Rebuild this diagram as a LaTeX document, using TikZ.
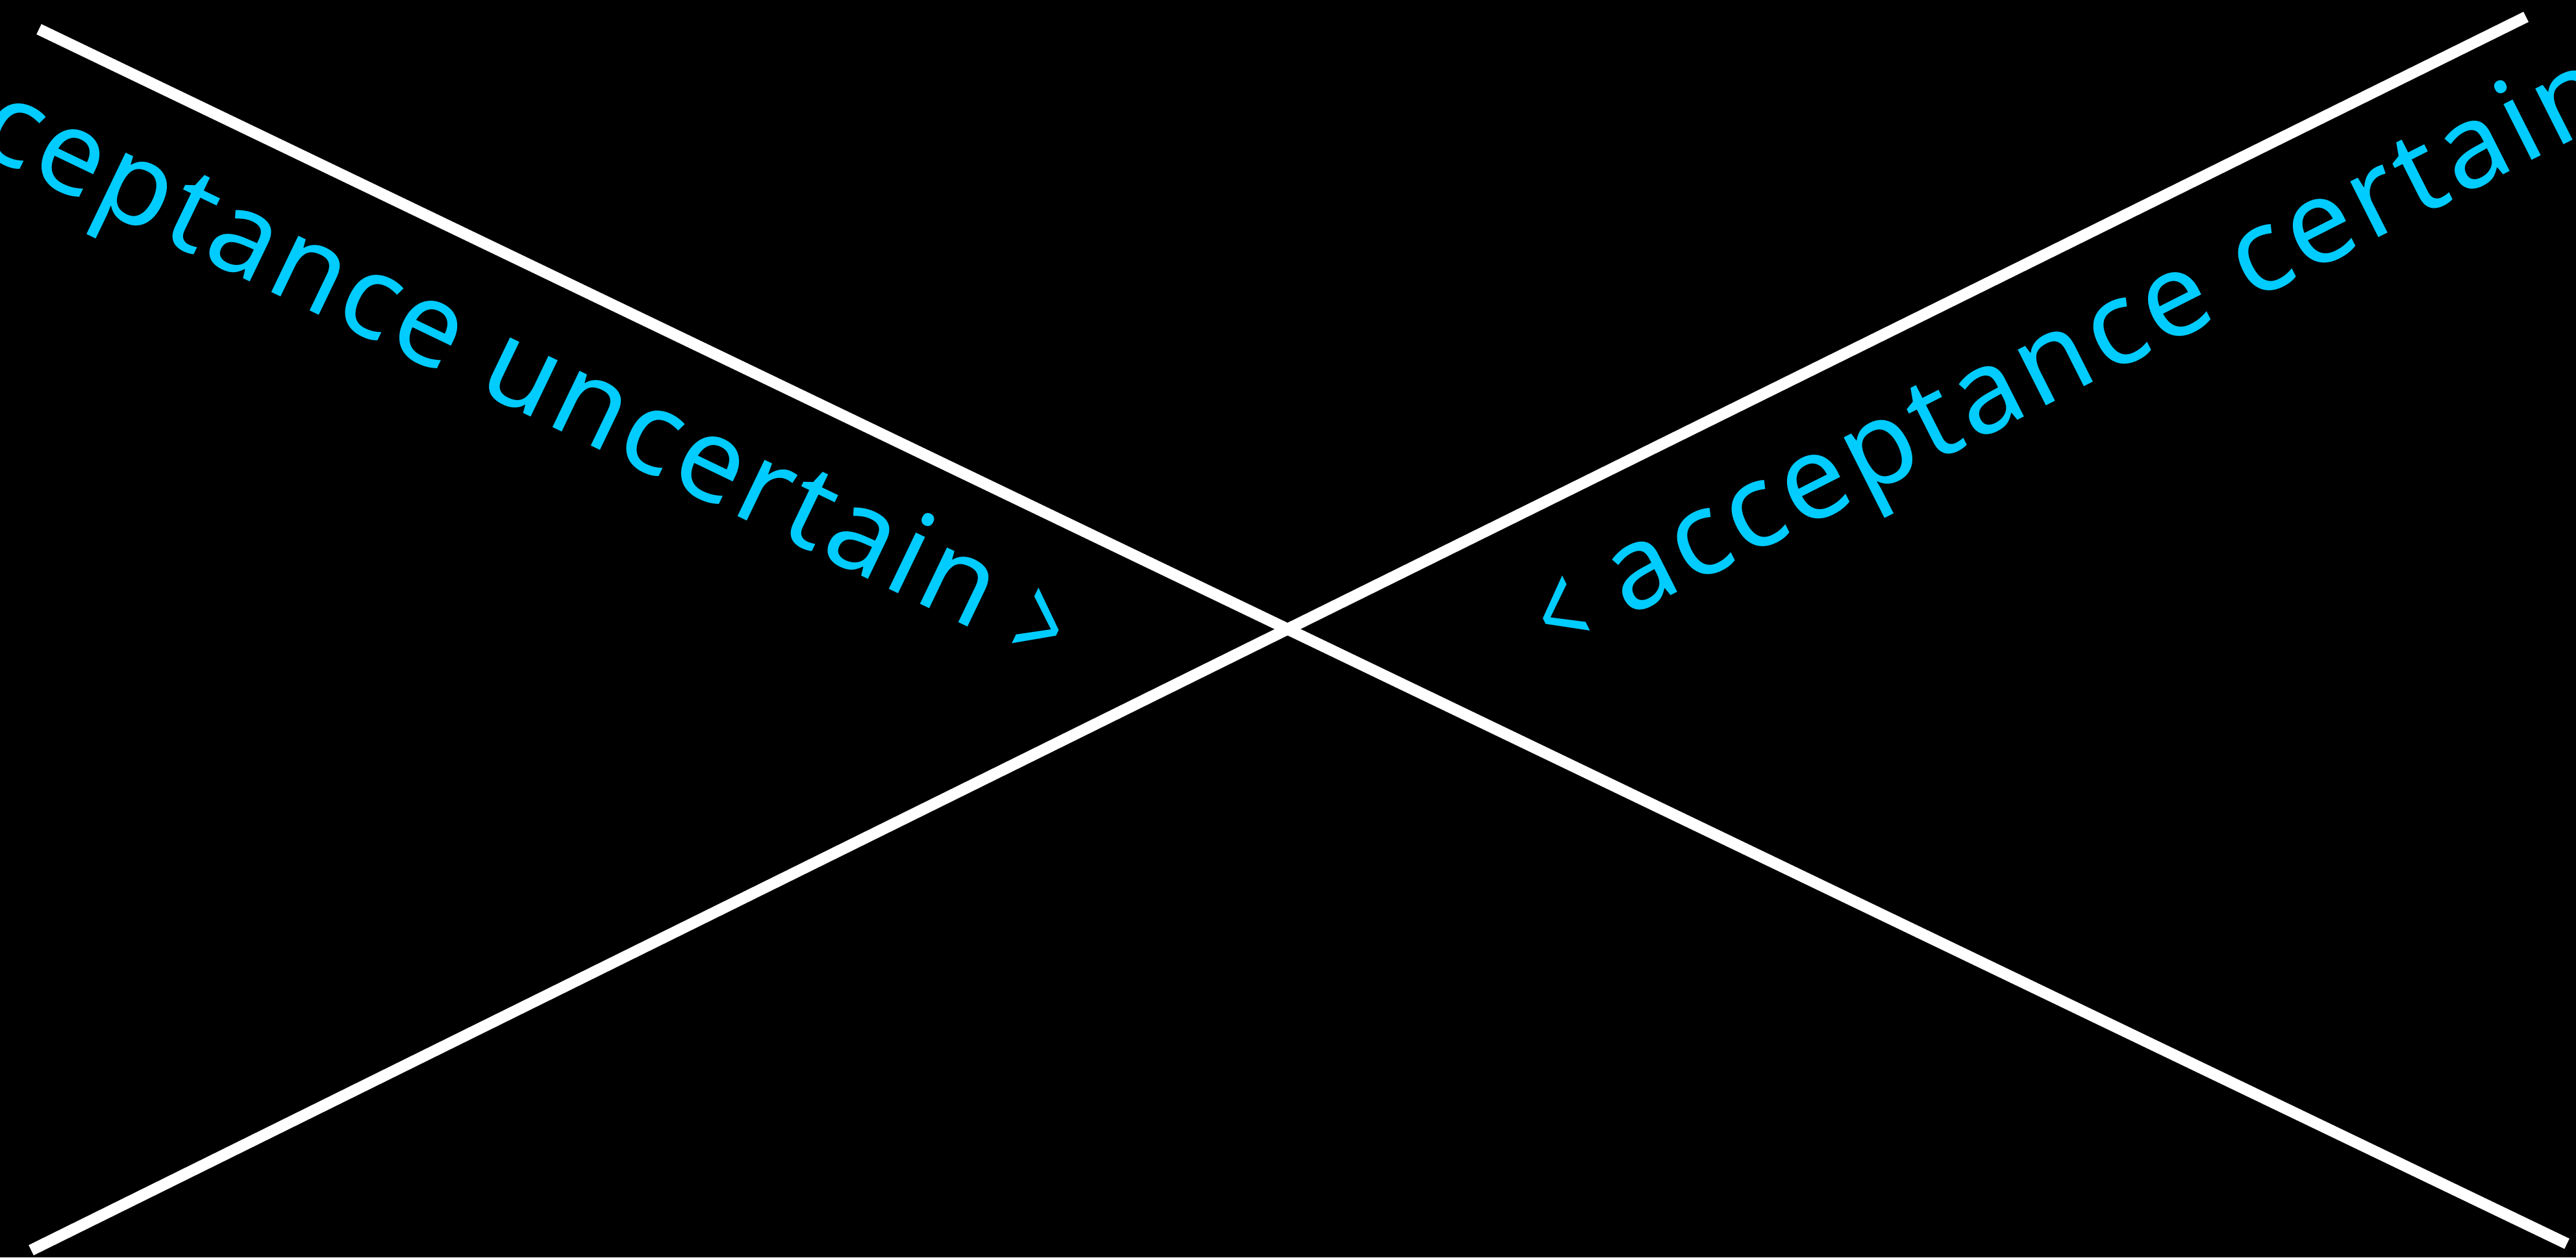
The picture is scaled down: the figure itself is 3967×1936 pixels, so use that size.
\documentclass[tikz,border=0pt]{standalone}
\usepackage{fontspec}
\setmainfont{Noto Sans}[LetterSpace=3.5]
\newfontfamily\widerfont{Noto Sans}[LetterSpace=4.6]
\definecolor{labelcyan}{HTML}{00CCFF}
\newcommand{\chev}[1]{\raisebox{-0.088em}{\scalebox{0.667}[1.077]{#1}}}
\begin{document}
\begin{tikzpicture}[x=0.01cm,y=-0.01cm,
  crossline/.style={draw=white,line width=0.175cm,line cap=butt},
  lbl/.style={text=labelcyan,font=\fontsize{51}{60}\selectfont,inner sep=0pt}]
\fill[black] (0,0) rectangle (3967,1936);
\useasboundingbox (0,0) rectangle (3967,1936);
\clip (0,0) rectangle (3967,1936);
\coordinate (a1) at (60,45);
\coordinate (a2) at (3953,1915);
\coordinate (b1) at (48,1925);
\coordinate (b2) at (3890,26);
\draw[crossline] (a1) -- (a2);
\draw[crossline] (b1) -- (b2);
\node[lbl,anchor=base east,rotate=-25.66] (uncertain) at (1613,1024) {acceptance uncertain \chev{>}};
\node[lbl,font=\widerfont\fontsize{51}{60}\selectfont,anchor=base west,rotate=26.8] (certain) at (2396,1006) {\chev{<} acceptance certain};
\end{tikzpicture}
\end{document}
